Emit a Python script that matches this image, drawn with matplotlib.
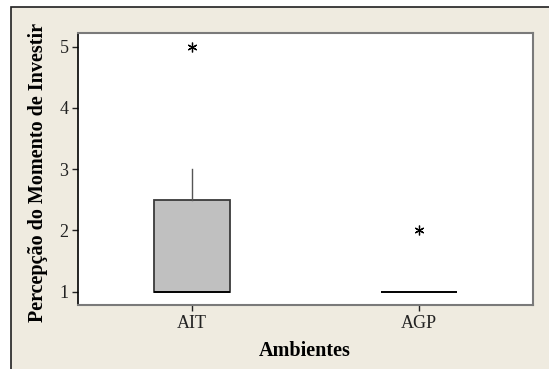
import matplotlib
matplotlib.use("Agg")
import matplotlib.pyplot as plt
from matplotlib.patches import Rectangle

categories = ["AIT", "AGP"]
q1 = [1.0, 1.0]
median = [1.0, 1.0]
q3 = [2.5, 1.0]
whisker_low = [1.0, 1.0]
whisker_high = [3.0, 1.0]
outliers = [[5.0], [2.0]]
y_ticks = [1, 2, 3, 4, 5]

plt.rcParams['font.family'] = ['Liberation Serif', 'DejaVu Serif']

fig = plt.figure(figsize=(5.49, 3.69), dpi=100, facecolor='white')
bg = Rectangle((11/549, -0.05), 1.1, 1 - 7/369 + 0.05, transform=fig.transFigure,
               facecolor='#EFEBE0', edgecolor='#202020', linewidth=1.2, zorder=-10)
fig.add_artist(bg)

ax = fig.add_axes([78.3/549, 1 - 305/369, (533 - 78.3)/549, (305 - 33.3)/369])
ax.set_zorder(5)
ax.set_facecolor('white')

stats = []
for i, c in enumerate(categories):
    stats.append(dict(label=c, q1=q1[i], med=median[i], q3=q3[i],
                      whislo=whisker_low[i], whishi=whisker_high[i], fliers=outliers[i]))

ax.bxp(stats, positions=[1, 2], widths=0.334, patch_artist=True, showcaps=False,
       boxprops=dict(facecolor='#C0C0C0', edgecolor='#3a3a3a', linewidth=1.3),
       whiskerprops=dict(color='#555555', linewidth=1.0),
       medianprops=dict(color='black', linewidth=1.3),
       flierprops=dict(marker=(6, 2, 0), markersize=7, markeredgecolor='black',
                       markerfacecolor='black', markeredgewidth=0.9, linestyle='none'))

ax.set_xlim(0.5, 2.5)
ax.set_ylim(0.78, 5.22)
ax.set_yticks(y_ticks)
ax.set_yticklabels([str(v) for v in y_ticks])
ax.set_xticks([1, 2])
ax.set_xticklabels(categories)
ax.tick_params(axis='both', direction='out', length=4, width=1, labelsize=13, colors='#222222')
ax.tick_params(axis='y', pad=3)
ax.tick_params(axis='x', pad=3)

for s in ['top', 'right', 'bottom']:
    ax.spines[s].set_color('#7a7a7a')
    ax.spines[s].set_linewidth(1.5)
ax.spines['left'].set_color('black')
ax.spines['left'].set_linewidth(1.2)

fig.text(38/549, 1 - 172/369, 'Percepção do Momento de Investir', rotation=90,
         ha='center', va='center', fontsize=14.5, fontweight='bold')
fig.text(305/549, 1 - 351/369, 'Ambientes', ha='center', va='center',
         fontsize=14.5, fontweight='bold')

fig.savefig('out.png', dpi=100, facecolor=fig.get_facecolor())
